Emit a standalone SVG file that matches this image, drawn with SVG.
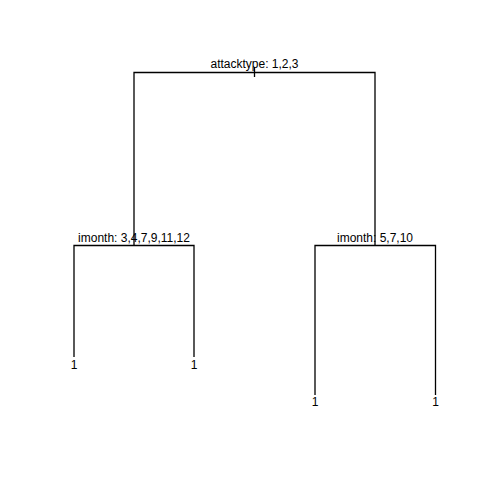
<svg xmlns="http://www.w3.org/2000/svg" width="480" height="480" viewBox="0 0 480 480">
<style>
.e{stroke:#000;stroke-width:1.3;fill:none;stroke-linecap:butt}
text{font-family:"Liberation Sans",Arial,sans-serif;font-size:12px;fill:#000;text-anchor:middle}
</style>
<rect width="480" height="480" fill="#fff"/>
<g id="connectors">
<path class="e" d="M134,245V72.5H375V245"/>
<path class="e" d="M254.5,67V77"/>
<path class="e" d="M74,357V245.5H194V357"/>
<path class="e" d="M315,395V245.5H435.5V395"/>
</g>
<g id="n-root"><text x="254.5" y="67.5">attacktype: 1,2,3</text></g>
<g id="n-left"><text x="134" y="242">imonth: 3,4,7,9,11,12</text></g>
<g id="n-right"><text x="375" y="242">imonth: 5,7,10</text></g>
<g id="leaf1"><text x="74" y="368.5">1</text></g>
<g id="leaf2"><text x="194" y="368.5">1</text></g>
<g id="leaf3"><text x="315" y="406">1</text></g>
<g id="leaf4"><text x="435.5" y="406">1</text></g>
</svg>
